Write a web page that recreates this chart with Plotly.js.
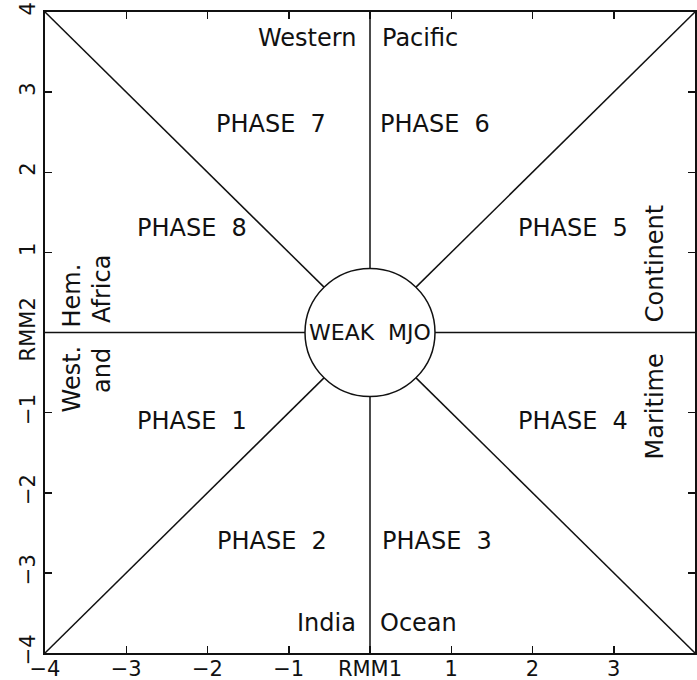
<!DOCTYPE html>
<html>
<head>
<meta charset="utf-8">
<script src="https://cdn.plot.ly/plotly-3.0.1.min.js"></script>
<style>html,body{margin:0;padding:0;background:#fff;}#chart{width:697px;height:680px;}</style>
</head>
<body>
<div id="chart"></div>
<script>
// Tick values and labels
var tickVals = [-4, -3, -2, -1, 0, 1, 2, 3, 4];
var xTickText = ['\u22124', '\u22123', '\u22122', '\u22121', 'RMM1', '1', '2', '3', '4'];
var yTickText = ['\u22124', '\u22123', '\u22122', '\u22121', 'RMM2', '1', '2', '3', '4'];

// Phase-diagram line segments (null separates segments)
var lineX = [0, 0, null, 0, 0, null, -4, -0.8, null, 0.8, 4, null,
             -4, -0.566, null, 0.566, 4, null, -4, -0.566, null, 0.566, 4];
var lineY = [4, 0.8, null, -0.8, -4, null, 0, 0, null, 0, 0, null,
             4, 0.566, null, -0.566, -4, null, -4, -0.566, null, 0.566, 4];
var circleRadius = 0.8;

// Phase labels
var phaseText = ['PHASE\u00a0\u00a01', 'PHASE\u00a0\u00a02', 'PHASE\u00a0\u00a03', 'PHASE\u00a0\u00a04',
                 'PHASE\u00a0\u00a05', 'PHASE\u00a0\u00a06', 'PHASE\u00a0\u00a07', 'PHASE\u00a0\u00a08'];
var phaseX = [-2.19, -1.21, 0.82, 2.5, 2.5, 0.8, -1.22, -2.19];
var phaseY = [-1.11, -2.6, -2.6, -1.11, 1.31, 2.6, 2.6, 1.31];

// Region labels (horizontal)
var regionText = ['Western', 'Pacific', 'India', 'Ocean'];
var regionX = [-0.15, 0.12, -0.15, 0.1];
var regionY = [3.67, 3.67, -3.63, -3.63];
var regionAnchor = ['right', 'left', 'right', 'left'];

// Region labels (vertical)
var vText = ['West.', 'Hem.', 'and', 'Africa', 'Maritime', 'Continent'];
var vX = [-3.67, -3.67, -3.3, -3.3, 3.51, 3.51];
var vY = [-0.575, 0.46, -0.47, 0.54, -0.92, 0.855];

var FONT = 'DejaVu Sans, sans-serif';
var annotations = [];
for (var i = 0; i < phaseText.length; i++) {
  annotations.push({x: phaseX[i], y: phaseY[i], text: phaseText[i], showarrow: false,
    xanchor: 'center', yanchor: 'middle', font: {family: FONT, size: 24, color: '#111'}});
}
for (var j = 0; j < regionText.length; j++) {
  annotations.push({x: regionX[j], y: regionY[j], text: regionText[j], showarrow: false,
    xanchor: regionAnchor[j], yanchor: 'middle', font: {family: FONT, size: 24, color: '#111'}});
}
for (var k = 0; k < vText.length; k++) {
  annotations.push({x: vX[k], y: vY[k], text: vText[k], showarrow: false, textangle: -90,
    xanchor: 'center', yanchor: 'middle', font: {family: FONT, size: 24, color: '#111'}});
}
annotations.push({x: 0, y: 0, text: 'WEAK\u00a0\u00a0MJO', showarrow: false,
  xanchor: 'center', yanchor: 'middle', font: {family: FONT, size: 22, color: '#111'}});

var traces = [{
  x: lineX, y: lineY, mode: 'lines', type: 'scatter', connectgaps: false,
  line: {color: '#111', width: 1.5}, hoverinfo: 'skip', showlegend: false
}];

var axisCommon = {
  range: [-4, 4], tickmode: 'array', tickvals: tickVals,
  showgrid: false, zeroline: false, showline: true, linecolor: '#111', linewidth: 2,
  mirror: 'ticks', ticks: 'inside', ticklen: 7, tickwidth: 1.5, tickcolor: '#111',
  tickfont: {family: FONT, size: 21, color: '#111'}, fixedrange: true
};

var layout = {
  width: 697, height: 680,
  margin: {l: 45, r: 2, t: 12, b: 27, pad: 0},
  paper_bgcolor: '#fff', plot_bgcolor: '#fff',
  showlegend: false,
  xaxis: Object.assign({}, axisCommon, {ticktext: xTickText, tickangle: 0, ticklabelstandoff: -4}),
  yaxis: Object.assign({}, axisCommon, {ticktext: yTickText, tickangle: -90}),
  shapes: [{type: 'circle', xref: 'x', yref: 'y', x0: -circleRadius, y0: -circleRadius,
    x1: circleRadius, y1: circleRadius, line: {color: '#111', width: 1.5}}],
  annotations: annotations
};

Plotly.newPlot('chart', traces, layout, {staticPlot: true, displayModeBar: false});
</script>
</body>
</html>
